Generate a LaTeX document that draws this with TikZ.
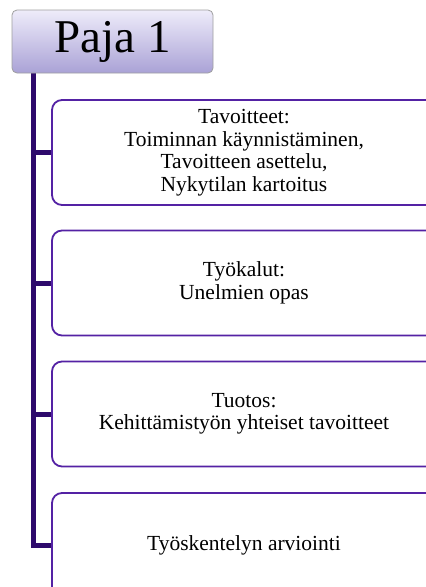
\documentclass[tikz,border=0pt]{standalone}
\usepackage{fontspec}
\setmainfont{Liberation Serif}
\usetikzlibrary{positioning}
\definecolor{trunkcolor}{RGB}{46,10,108}
\definecolor{boxcolor}{RGB}{84,34,164}
\definecolor{titletop}{RGB}{238,236,250}
\definecolor{titlebottom}{RGB}{170,162,214}
\tikzset{
  titlebox/.style={draw=gray!75, line width=0.8pt, rounded corners=5pt, top color=titletop, bottom color=titlebottom,
    minimum width=201pt, minimum height=63pt, inner sep=0pt, font=\fontsize{47}{50}\selectfont},
  stagebox/.style={draw=boxcolor, line width=1.8pt, rounded corners=10pt, fill=white,
    minimum width=384pt, minimum height=105pt, align=center, inner sep=2pt},
  trunk/.style={trunkcolor, line width=5pt, line join=miter},
}
\begin{document}
\begin{tikzpicture}[x=1pt, y=-1pt, font=\fontsize{21.5}{22.5}\selectfont]
  \useasboundingbox (0,0) rectangle (426,587);
  \clip (0,0) rectangle (426,587);
  % stages
  \node[stagebox] (goals) at (244,152.5) {Tavoitteet:\\Toiminnan käynnistäminen,\\Tavoitteen asettelu,\\Nykytilan kartoitus};
  \node[stagebox] (tools) at (244,283) {Työkalut:\\Unelmien opas};
  \node[stagebox] (output) at (244,414) {Tuotos:\\Kehittämistyön yhteiset tavoitteet};
  \node[stagebox] (review) at (244,545.5) {Työskentelyn arviointi};
  % trunk and branches
  \coordinate (top) at (33.5,70);
  \draw[trunk] (top) |- (review.west);
  \foreach \stage in {goals, tools, output} {
    \draw[trunk] (\stage.west -| top) -- (\stage.west);
  }
  \node[titlebox] (title) at (112.5,41.5) {Paja 1};
\end{tikzpicture}
\end{document}
